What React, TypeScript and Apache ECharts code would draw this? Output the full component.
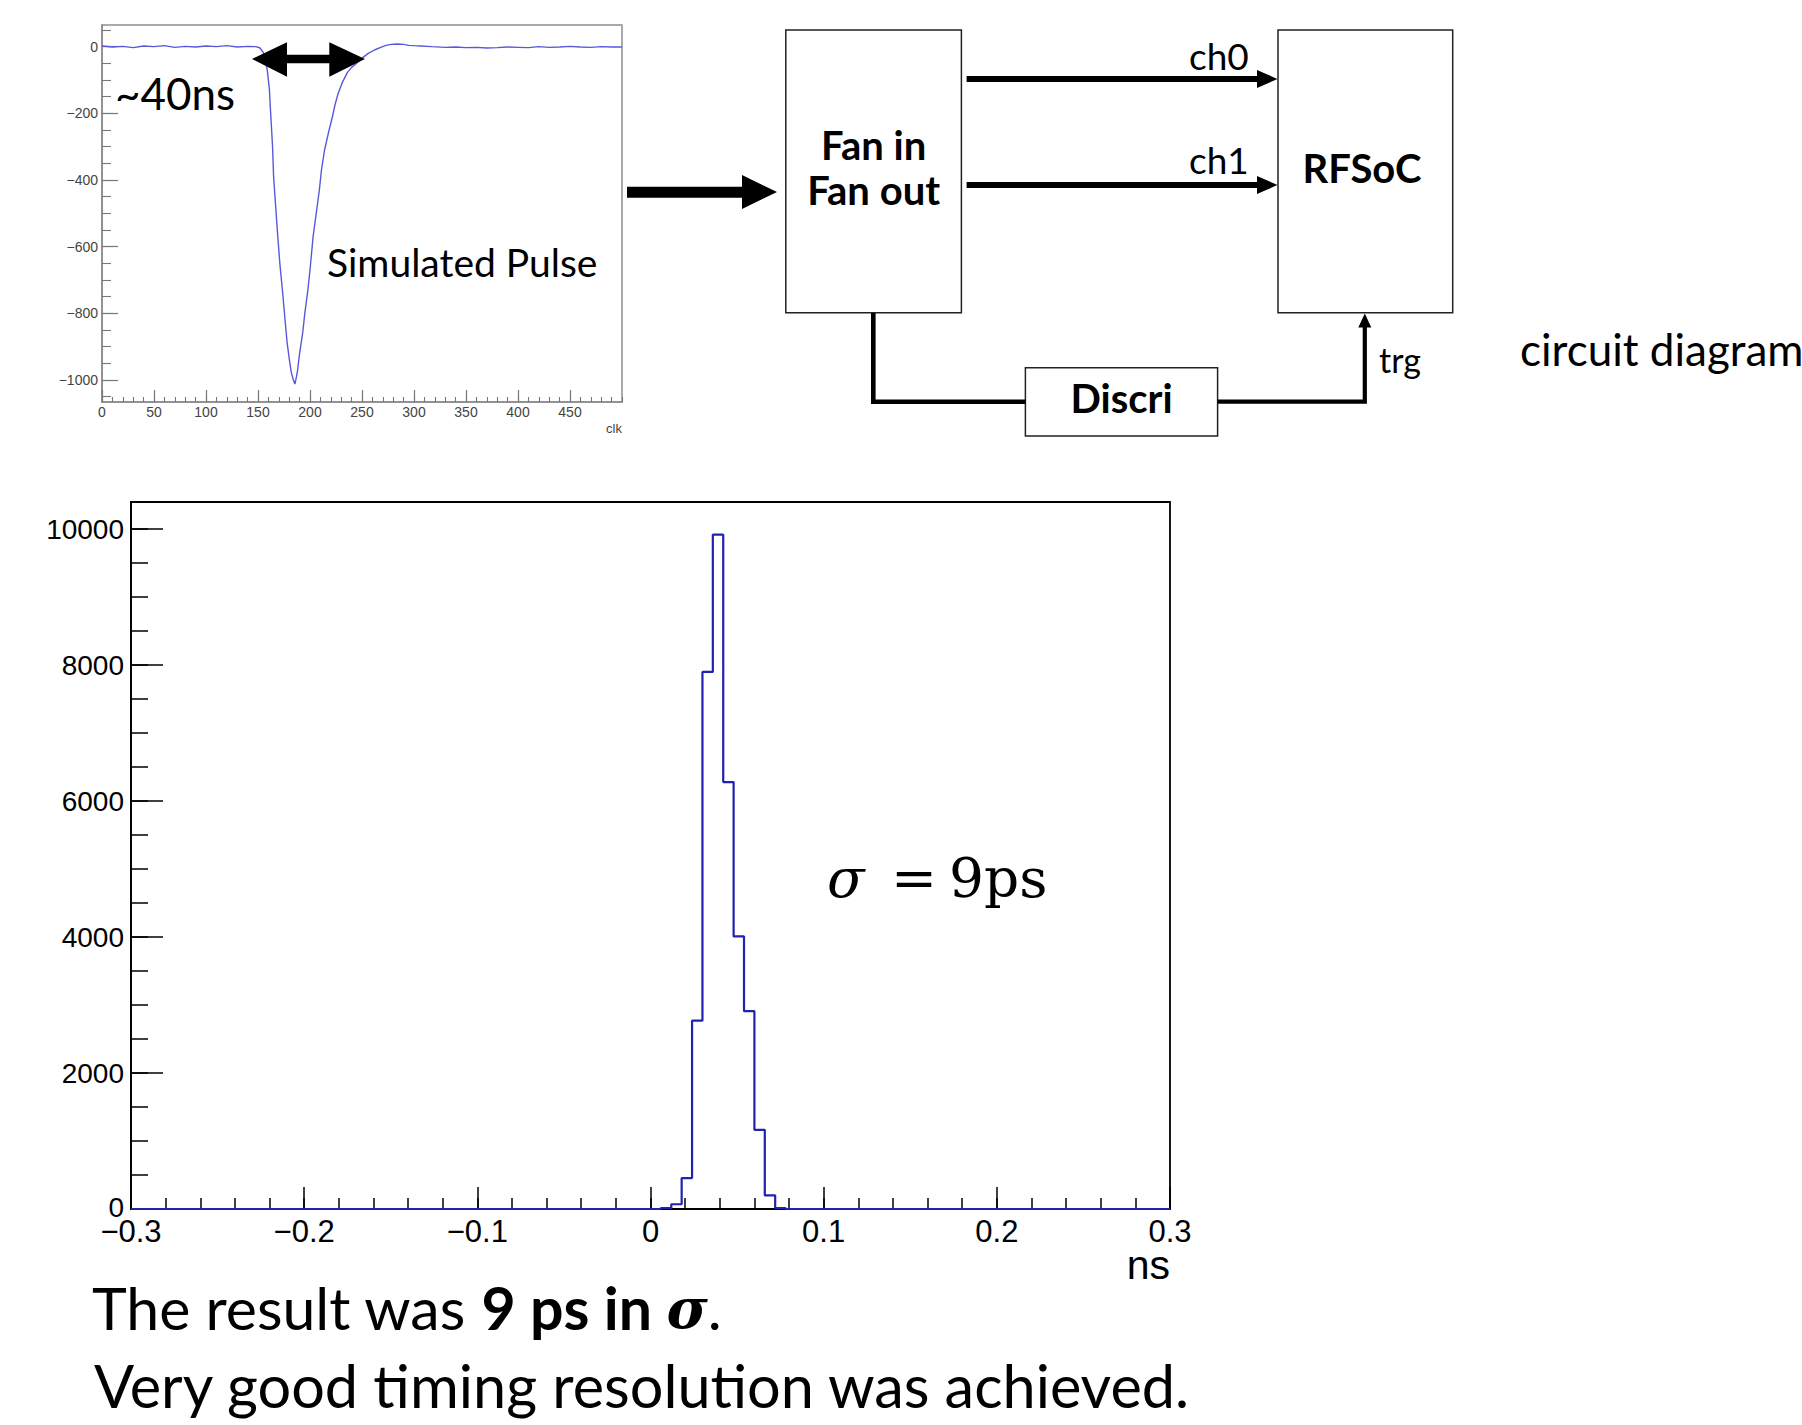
import React, { useEffect, useRef } from "react";
import * as echarts from "echarts";

// ---------- Top-left: simulated pulse (clk vs amplitude) ----------
const pulseClk = [
  0, 10, 20, 30, 40, 50, 60, 70, 80, 90, 100, 110, 120, 130, 140, 148, 152, 155, 157, 159,
  161, 162, 164, 165, 167, 169, 171, 174, 176, 178, 180, 182, 184, 185.5, 187, 188, 190, 193,
  195, 198, 200, 203, 206, 209, 211, 214, 218, 221.5, 224, 227, 231, 236, 240, 244, 251, 256,
  262, 268, 273, 278, 284, 290, 295, 300, 306, 317, 330, 340, 350, 360, 370, 380, 390, 400,
  410, 420, 430, 440, 450, 460, 470, 480, 490, 500,
];
const pulseAmp = [
  2, -1, 1, -3, 2, 0, 3, -2, 1, -1, 2, 0, 3, -1, 1, 0, -4, -17, -40, -72,
  -130, -190, -300, -390, -480, -569, -650, -748, -820, -888, -935, -977, -1000, -1012, -990, -972, -920, -858,
  -800, -729, -670, -569, -500, -430, -370, -310, -255, -211, -175, -141, -108, -77, -62, -52, -32, -20,
  -10, -2, 4, 7, 8, 7, 4, 3, 2, 0, -2, -1, -3, -2, -4, -3, -1, -2,
  -3, 0, -2, -1, 1, -1, -2, 0, -1, -1,
];
const pulseXLabels = [0, 50, 100, 150, 200, 250, 300, 350, 400, 450];
const pulseYLabels = [0, -200, -400, -600, -800, -1000];

// ---------- Bottom: timing difference histogram (ns) ----------
const binLeft = [0.006, 0.012, 0.018, 0.024, 0.03, 0.036, 0.042, 0.048, 0.054, 0.06, 0.066, 0.072];
const binCount = [15, 70, 455, 2770, 7900, 9920, 6280, 4010, 2910, 1165, 200, 15];
const binWidth = 0.006;
const histXLabels = [-0.3, -0.2, -0.1, 0, 0.1, 0.2, 0.3];
const histYLabels = [0, 2000, 4000, 6000, 8000, 10000];

const range = (a: number, b: number, step: number) => {
  const out: number[] = [];
  const n = Math.round((b - a) / step);
  for (let i = 0; i <= n; i++) out.push(Math.round((a + i * step) * 1e6) / 1e6);
  return out;
};

const MINUS = "\u2212";
const fmtInt = (v: number) => String(v).replace("-", MINUS);
const fmtNs = (v: number) => (Math.abs(v) < 1e-9 ? "0" : v.toFixed(1).replace("-", MINUS));
const fmtCount = (v: number) => (v === 0 ? "{z|0}" : String(v));

const LATO_C = 0.387;
const txt = (
  text: string,
  x: number,
  base: number,
  size: number,
  opt: { bold?: boolean; align?: string; family?: string; italic?: boolean; c?: number } = {}
) => ({
  type: "text",
  x,
  y: base - (opt.c ?? LATO_C) * size,
  z: 10,
  style: {
    text,
    fontSize: size,
    fontFamily: opt.family || "Lato",
    fontWeight: opt.bold ? "bold" : "normal",
    fontStyle: opt.italic ? "italic" : "normal",
    fill: "#000",
    align: opt.align || "left",
    verticalAlign: "middle",
  },
});

const poly = (points: number[][], fill = "#000") => ({
  type: "polygon",
  z: 10,
  shape: { points },
  style: { fill },
});

const box = (x: number, y: number, w: number, h: number) => ({
  type: "rect",
  z: 9,
  shape: { x, y, width: w, height: h },
  style: { fill: "#fff", stroke: "#222", lineWidth: 1.5 },
});

const wire = (points: number[][], w: number) => ({
  type: "polyline",
  z: 9,
  shape: { points },
  style: { stroke: "#000", lineWidth: w, fill: null, lineJoin: "miter" },
});

export default function App() {
  const ref = useRef<HTMLDivElement>(null);

  useEffect(() => {
    if (!ref.current) return;
    const chart = echarts.init(ref.current, undefined, { renderer: "svg" });

    const histPoints: number[][] = [[-0.3, 0]];
    binLeft.forEach((x, i) => histPoints.push([x, binCount[i]]));
    histPoints.push([Math.round((binLeft[binLeft.length - 1] + binWidth) * 1e6) / 1e6, 0]);
    histPoints.push([0.3, 0]);

    const pulsePoints = pulseClk.map((c, i) => [c, pulseAmp[i]]);

    const rootFont = "Liberation Sans";
    const noLine = { show: false, onZero: false };

    const option: any = {
      animation: false,
      backgroundColor: "#ffffff",
      grid: [
        { left: 102, top: 25, width: 520, height: 377, show: true, borderColor: "#909090", borderWidth: 1.5, backgroundColor: "transparent" },
        { left: 131, top: 502, width: 1039, height: 707, show: true, borderColor: "#000", borderWidth: 1.8, backgroundColor: "transparent" },
      ],
      xAxis: [
        {
          gridIndex: 0, type: "value", min: 0, max: 500, position: "bottom",
          axisLine: { show: true, onZero: false, lineStyle: { color: "#8a8a8a", width: 1.5 } },
          axisTick: { show: true, inside: true, length: 12, customValues: pulseXLabels, lineStyle: { color: "#777", width: 1.2 } },
          axisLabel: { show: true, customValues: pulseXLabels, margin: 3, fontSize: 14, color: "#444", fontFamily: rootFont, formatter: fmtInt },
          splitLine: { show: false },
          name: "clk", nameLocation: "end", nameGap: 0, nameMoveOverlap: false,
          nameTextStyle: { fontSize: 13, color: "#444", fontFamily: rootFont, align: "right", verticalAlign: "top", padding: [20, 0, 0, 0] },
        },
        {
          gridIndex: 0, type: "value", min: 0, max: 500, position: "bottom",
          axisLine: noLine,
          axisTick: { show: true, inside: true, length: 5, customValues: range(0, 500, 10), lineStyle: { color: "#777", width: 1.1 } },
          axisLabel: { show: false }, splitLine: { show: false },
        },
        {
          gridIndex: 1, type: "value", min: -0.3, max: 0.3, position: "bottom",
          axisLine: { show: true, onZero: false, lineStyle: { color: "#000", width: 1.8 } },
          axisTick: { show: true, inside: true, length: 22, customValues: histXLabels, lineStyle: { color: "#000", width: 1.5 } },
          axisLabel: { show: true, customValues: histXLabels, margin: 7, fontSize: 31, color: "#000", fontFamily: rootFont, formatter: fmtNs },
          splitLine: { show: false },
          name: "ns", nameLocation: "end", nameGap: 0, nameMoveOverlap: false,
          nameTextStyle: { fontSize: 41, color: "#000", fontFamily: rootFont, align: "right", verticalAlign: "top", padding: [35, 0, 0, 0] },
        },
        {
          gridIndex: 1, type: "value", min: -0.3, max: 0.3, position: "bottom",
          axisLine: noLine,
          axisTick: { show: true, inside: true, length: 11, customValues: range(-0.3, 0.3, 0.02), lineStyle: { color: "#000", width: 1.5 } },
          axisLabel: { show: false }, splitLine: { show: false },
        },
      ],
      yAxis: [
        {
          gridIndex: 0, type: "value", min: -1066, max: 65, position: "left",
          axisLine: { show: true, onZero: false, lineStyle: { color: "#8a8a8a", width: 1.5 } },
          axisTick: { show: true, inside: true, length: 16, customValues: pulseYLabels, lineStyle: { color: "#777", width: 1.2 } },
          axisLabel: { show: true, customValues: pulseYLabels, margin: 4, fontSize: 14, color: "#444", fontFamily: rootFont, formatter: fmtInt },
          splitLine: { show: false },
        },
        {
          gridIndex: 0, type: "value", min: -1066, max: 65, position: "left",
          axisLine: noLine,
          axisTick: { show: true, inside: true, length: 9, customValues: range(-1050, 50, 50), lineStyle: { color: "#777", width: 1.1 } },
          axisLabel: { show: false }, splitLine: { show: false },
        },
        {
          gridIndex: 1, type: "value", min: 0, max: 10400, position: "left",
          axisLine: { show: true, onZero: false, lineStyle: { color: "#000", width: 1.8 } },
          axisTick: { show: true, inside: true, length: 32, customValues: histYLabels, lineStyle: { color: "#000", width: 1.5 } },
          axisLabel: {
            show: true, customValues: histYLabels, margin: 7, fontSize: 28, color: "#000", fontFamily: rootFont,
            formatter: fmtCount,
            rich: { z: { fontSize: 28, fontFamily: rootFont, color: "#000", lineHeight: 12, padding: [0, 0, 4, 0] } },
          },
          splitLine: { show: false },
        },
        {
          gridIndex: 1, type: "value", min: 0, max: 10400, position: "left",
          axisLine: noLine,
          axisTick: { show: true, inside: true, length: 17, customValues: range(0, 10000, 500), lineStyle: { color: "#000", width: 1.5 } },
          axisLabel: { show: false }, splitLine: { show: false },
        },
      ],
      series: [
        {
          name: "Simulated Pulse", type: "line", xAxisIndex: 0, yAxisIndex: 0,
          data: pulsePoints, showSymbol: false, symbol: "none", clip: true,
          lineStyle: { color: "#5858dc", width: 1.4 },
        },
        {
          name: "timing", type: "line", xAxisIndex: 2, yAxisIndex: 2, step: "end",
          data: histPoints, showSymbol: false, symbol: "none", clip: true,
          lineStyle: { color: "#2222b0", width: 2.2 },
        },
      ],
      graphic: [
        // double arrow on the pulse
        poly([[252, 59], [287, 42.3], [287, 54.8], [329.3, 54.8], [329.3, 42.3], [365, 59], [329.3, 76.7], [329.3, 63.2], [287, 63.2], [287, 76.7]]),
        txt("~40ns", 115, 110, 44),
        txt("Simulated Pulse", 327, 277, 39),
        // input arrow
        poly([[627, 186.7], [742, 186.7], [742, 175], [777, 192], [742, 209], [742, 197.7], [627, 197.7]]),
        box(785.8, 30, 175.6, 282.7),
        box(1278, 30, 174.7, 282.7),
        box(1025.4, 367.7, 192.2, 68.3),
        // ch0 / ch1 arrows
        poly([[966.6, 75.9], [1257, 75.9], [1257, 70], [1277.5, 79], [1257, 88], [1257, 82.1], [966.6, 82.1]]),
        poly([[966.6, 181.9], [1257, 181.9], [1257, 176], [1277.5, 185], [1257, 194], [1257, 188.1], [966.6, 188.1]]),
        wire([[873.3, 313], [873.3, 401.7], [1025.4, 401.7]], 4.6),
        wire([[1217.6, 401.7], [1364.8, 401.7], [1364.8, 325]], 4.2),
        poly([[1358.3, 327.5], [1364.8, 313.5], [1371.3, 327.5]]),
        txt("Fan in", 873.6, 160.7, 40, { bold: true, align: "center" }),
        txt("Fan out", 873.6, 205, 40, { bold: true, align: "center" }),
        txt("RFSoC", 1362, 183, 40, { bold: true, align: "center" }),
        txt("Discri", 1121.5, 413, 40, { bold: true, align: "center" }),
        txt("ch0", 1189, 70, 37),
        txt("ch1", 1189, 174.3, 37),
        txt("trg", 1379, 372.7, 34),
        txt("circuit diagram", 1520, 366, 44),
        // sigma annotation
        txt("\u03C3", 827, 897, 55, { family: "DejaVu Serif", italic: true, c: 0.346 }),
        txt("=", 891, 897, 55, { family: "DejaVu Serif", c: 0.346 }),
        txt("9ps", 949, 897, 55, { family: "DejaVu Serif", c: 0.346 }),
        // bottom sentences
        {
          type: "text", x: 92, y: 1331 - LATO_C * 60, z: 10,
          style: {
            text: "{n|The result was }{b|9 ps in }{s|\u03C3}{n|.}",
            verticalAlign: "middle", align: "left",
            rich: {
              n: { fontFamily: "Lato", fontSize: 59, lineHeight: 60, fill: "#000" },
              b: { fontFamily: "Lato", fontSize: 59, lineHeight: 60, fontWeight: "bold", fill: "#000" },
              s: { fontFamily: "DejaVu Serif", fontSize: 56, lineHeight: 60, fontWeight: "bold", fontStyle: "italic", fill: "#000" },
            },
          },
        },
        txt("Very good timing resolution was achieved.", 94, 1408, 59.4),
      ],
    };

    chart.setOption(option);
    return () => chart.dispose();
  }, []);

  return (
    <div
      ref={ref}
      style={{ position: "fixed", left: 0, top: 0, width: 1802, height: 1425, background: "#fff" }}
    />
  );
}
